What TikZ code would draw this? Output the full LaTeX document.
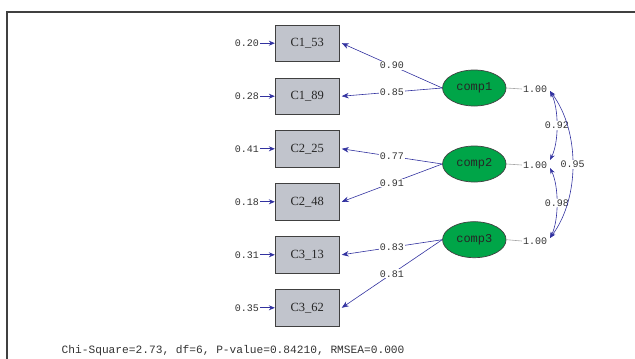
\documentclass[tikz,border=0pt]{standalone}
\usepackage{fontspec}
\setmainfont{Liberation Serif}
\setmonofont{Liberation Mono}
\usetikzlibrary{arrows.meta,shapes.geometric}
\definecolor{boxfill}{RGB}{193,196,204}
\definecolor{latfill}{RGB}{0,165,72}
\definecolor{arrowblue}{RGB}{50,50,160}
\definecolor{edge}{RGB}{64,64,64}
\tikzset{
  obs/.style={draw=edge,line width=0.9pt,fill=boxfill,minimum width=64pt,minimum height=36.5pt,inner sep=0pt,font=\rmfamily\fontsize{12.5}{13}\selectfont,text=black!85},
  lat/.style={draw=edge,line width=0.7pt,fill=latfill,ellipse,minimum width=63.5pt,minimum height=36pt,inner sep=0pt,font=\ttfamily\fontsize{12}{13}\selectfont,text=black!85},
  num/.style={inner sep=1pt,font=\ttfamily\fontsize{10}{11}\selectfont,text=black!80},
  numbg/.style={num,fill=white},
  load/.style={draw=arrowblue,line width=0.6pt,-{Stealth[length=7pt,width=5.5pt]}},
  errarr/.style={draw=arrowblue,line width=1pt,-{Stealth[length=6pt,width=5pt]}},
  varline/.style={draw=black!35,line width=0.6pt},
  corr/.style={draw=arrowblue,line width=0.6pt,{Stealth[length=6pt,width=4.5pt]}-{Stealth[length=6pt,width=4.5pt]}},
}
\begin{document}
\begin{tikzpicture}[x=1pt,y=-1pt]
\useasboundingbox (0,0) rectangle (635,359);
\draw[edge,line width=1.2pt] (7,359) -- (7,12) -- (635,12);
% observed
\node[obs] (b1) at (307.3,43.2) {C1\_53};
\node[obs] (b2) at (307.3,96.2) {C1\_89};
\node[obs] (b3) at (307.3,148.8) {C2\_25};
\node[obs] (b4) at (307.3,201.8) {C2\_48};
\node[obs] (b5) at (307.3,254.8) {C3\_13};
\node[obs] (b6) at (307.3,307.8) {C3\_62};
% errors
\node[num,anchor=east] (e1) at (260,43.2) {0.20};
\node[num,anchor=east] (e2) at (260,96.2) {0.28};
\node[num,anchor=east] (e3) at (260,148.8) {0.41};
\node[num,anchor=east] (e4) at (260,201.8) {0.18};
\node[num,anchor=east] (e5) at (260,254.8) {0.31};
\node[num,anchor=east] (e6) at (260,307.8) {0.35};
\foreach \i in {1,...,6} \draw[errarr] (e\i.east) -- (b\i.west);
% latent
\node[lat] (l1) at (474.3,88) {comp1};
\node[lat] (l2) at (474.3,164) {comp2};
\node[lat] (l3) at (474.3,239.7) {comp3};
% loadings
\draw[load] (l1.west) -- node[numbg,pos=0.5] (t1) {0.90} ([xshift=2pt]b1.east);
\draw[load] (l1.west) -- node[numbg,pos=0.5] (t2) {0.85} ([xshift=2pt]b2.east);
\draw[load] (l2.west) -- node[numbg,pos=0.5] (t3) {0.77} ([xshift=2pt]b3.east);
\draw[load] (l2.west) -- node[numbg,pos=0.5] (t4) {0.91} ([xshift=2pt]b4.east);
\draw[load] (l3.west) -- node[numbg,pos=0.5] (t5) {0.83} ([xshift=2pt]b5.east);
\draw[load] (l3.west) -- node[numbg,pos=0.5] (t6) {0.81} ([xshift=2pt]b6.east);
% variances
\node[num] (v1) at (535,89) {1.00};
\node[num] (v2) at (535,165) {1.00};
\node[num] (v3) at (535,241) {1.00};
\foreach \i in {1,2,3} \draw[varline] (l\i.east) -- (v\i.west);
% correlations
\coordinate (k1) at (550,91);
\coordinate (k2a) at (550,160);
\coordinate (k2b) at (550,168);
\coordinate (k3) at (550,238);
\draw[corr] (k1) .. controls +(9,18) and +(9,-18) .. node[numbg,pos=0.5] (r1) {0.92} (k2a);
\draw[corr] (k2b) .. controls +(9,18) and +(9,-18) .. node[numbg,pos=0.5] (r2) {0.98} (k3);
\draw[corr] (k1) .. controls +(30,40) and +(30,-40) .. node[numbg,pos=0.5] (r3) {0.95} (k3);
% fit line
\node[anchor=west,inner sep=0pt,font=\ttfamily\fontsize{11.2}{12}\selectfont,text=black!80] (fit) at (61.5,351) {Chi-Square=2.73, df=6, P-value=0.84210, RMSEA=0.000};
\end{tikzpicture}
\end{document}
